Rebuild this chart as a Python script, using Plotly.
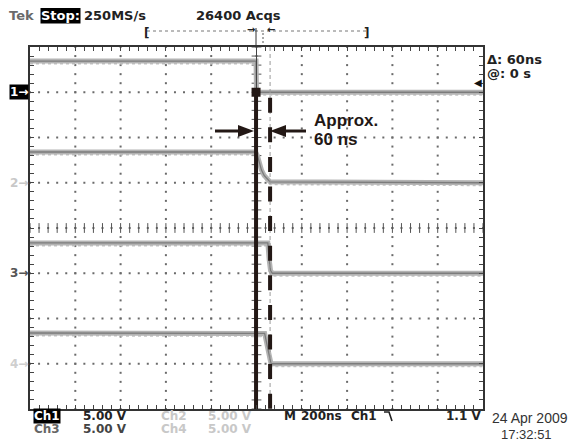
import plotly.graph_objects as go
import numpy as np

# ---------------- data ----------------
ns_per_div = 200
volts_per_div = 5.0
ch_offsets_div = [3, 1, -1, -3]          # ground marker positions (divisions from centre)
ch_names = ["1", "2", "3", "4"]

ch1_t = [-1000, -2, 0, 1000]
ch1_v = [3.45, 3.45, 0.0, 0.0]
ch2_t = [-1000, -4, 4, 12, 22, 34, 48, 60, 1000]
ch2_v = [3.4, 3.4, 3.0, 2.2, 1.4, 0.8, 0.4, 0.1, 0.0]
ch3_t = [-1000, 50, 56, 62, 70, 1000]
ch3_v = [3.35, 3.35, 1.5, 0.3, 0.0, 0.0]
ch4_t = [-1000, 36, 44, 52, 58, 64, 1000]
ch4_v = [3.4, 3.35, 2.4, 1.3, 0.5, 0.0, 0.0]

cursor1_ns = 0
cursor2_ns = 60

header_left = ["Tek", "Stop:", "250MS/s"]
header_acqs = "26400 Acqs"
delta_text = "Δ: 60ns"
at_text = "@: 0 s"
note_lines = ["Approx.", "60 ns"]
bottom_row1 = ["Ch1", "5.00 V", "Ch2", "5.00 V", "M", "200ns", "Ch1", "1.1 V"]
bottom_row2 = ["Ch3", "5.00 V", "Ch4", "5.00 V"]
date_text = "24 Apr 2009"
time_text = "17:32:51"

# ---------------- geometry ----------------
W, H = 580, 442
PAGE = 8                     # default page margin of the html body
L, R, T, B = 30, 483, 47, 409


def px(xp):
    return (xp - L) / (R - L)


def py(yp):
    return (B - yp) / (B - T)


FONT = "DejaVu Sans"
INK = "#231815"

fig = go.Figure()

# graticule dots
xs_grid = np.arange(-800, 801, 200)
ys_dots = np.arange(-4, 4.001, 0.2)
gx, gy = [], []
for x in xs_grid:
    for y in ys_dots:
        gx.append(x); gy.append(y)
xs_dots = np.arange(-1000, 1000.1, 40)
for y in range(-3, 4):
    for x in xs_dots:
        gx.append(x); gy.append(y)
fig.add_trace(go.Scatter(x=gx, y=gy, mode="markers",
                         marker=dict(symbol="square", size=2, color="#6a6a6a"),
                         hoverinfo="skip", showlegend=False))
# centre crosshair ticks
fig.add_trace(go.Scatter(x=xs_dots, y=[0] * len(xs_dots), mode="markers",
                         marker=dict(symbol="line-ns", size=7, line=dict(width=1, color="#555")),
                         hoverinfo="skip", showlegend=False))
fig.add_trace(go.Scatter(x=[0] * len(ys_dots), y=ys_dots, mode="markers",
                         marker=dict(symbol="line-ew", size=7, line=dict(width=1, color="#555")),
                         hoverinfo="skip", showlegend=False))

# waveforms
for t, v, off in [(ch1_t, ch1_v, ch_offsets_div[0]), (ch2_t, ch2_v, ch_offsets_div[1]),
                  (ch3_t, ch3_v, ch_offsets_div[2]), (ch4_t, ch4_v, ch_offsets_div[3])]:
    yy = [off + vv / volts_per_div for vv in v]
    yy2 = [y - 0.06 for y in yy]
    fig.add_trace(go.Scatter(x=t, y=yy2, mode="lines",
                             line=dict(color="#c4c4c4", width=1.5, dash="dot"),
                             hoverinfo="skip", showlegend=False))
    fig.add_trace(go.Scatter(x=t, y=yy, mode="lines",
                             line=dict(color="#b3b3b3", width=5),
                             hoverinfo="skip", showlegend=False))
    fig.add_trace(go.Scatter(x=t, y=yy, mode="lines",
                             line=dict(color="#7c7c7c", width=1.3),
                             hoverinfo="skip", showlegend=False))

# thin cursor lines
fig.add_trace(go.Scatter(x=[cursor1_ns, cursor1_ns], y=[4, -4], mode="lines",
                         line=dict(color="#444", width=1), hoverinfo="skip", showlegend=False))
fig.add_trace(go.Scatter(x=[cursor2_ns, cursor2_ns], y=[4, -4], mode="lines",
                         line=dict(color="#999", width=1, dash="4px,3px"),
                         hoverinfo="skip", showlegend=False))

# thick annotation lines
fig.add_trace(go.Scatter(x=[cursor1_ns - 2, cursor1_ns - 2], y=[ch_offsets_div[0], -4], mode="lines",
                         line=dict(color=INK, width=4), hoverinfo="skip", showlegend=False))
fig.add_trace(go.Scatter(x=[cursor2_ns, cursor2_ns], y=[2.88, -4], mode="lines",
                         line=dict(color=INK, width=4, dash="15px,14.6px"),
                         hoverinfo="skip", showlegend=False))
fig.add_trace(go.Scatter(x=[cursor1_ns - 2], y=[ch_offsets_div[0]], mode="markers",
                         marker=dict(symbol="square", size=9, color=INK),
                         hoverinfo="skip", showlegend=False))

shapes = []
annos = []


def text(x, y, s, size=13, color="#222", bold=True, anchor="left", bg=None, family=FONT):
    annos.append(dict(x=px(x), y=py(y), xref="paper", yref="paper", text=("<b>%s</b>" % s) if bold else s,
                      showarrow=False, xanchor=anchor, yanchor="middle",
                      font=dict(family=family, size=size, color=color),
                      bgcolor=bg, borderpad=0))


# header
text(8, 15, header_left[0], color="#6a6a6a")
text(40, 15, header_left[1], color="white", bg="black")
text(83, 15, header_left[2], color="#222")
text(195, 15, header_acqs, color="#222")
text(143, 33, "[", size=12)
text(370, 33, "]", size=12, anchor="right")
shapes.append(dict(type="line", xref="paper", yref="paper", x0=px(147), x1=px(366), y0=py(31), y1=py(31),
                   line=dict(color="#777", width=1, dash="dot")))
text(256, 30, "→", size=10, anchor="right", color="#222")
text(266, 30, "←", size=10, color="#222")
shapes.append(dict(type="line", xref="paper", yref="paper", x0=px(256), x1=px(256), y0=py(28), y1=py(47),
                   line=dict(color="#333", width=1)))
shapes.append(dict(type="line", xref="paper", yref="paper", x0=px(263), x1=px(263), y0=py(33), y1=py(45),
                   line=dict(color="#555", width=1, dash="2px,2px")))

# right side readouts
text(486, 59, delta_text)
text(486, 73, at_text)
text(483, 83, "◀", size=10, anchor="right", color="#111", bold=False)

# channel ground markers
marker_cols = [("white", "black"), ("#c8c8c8", None), ("#555", None), ("#cfcfcf", None)]
for name, off, (fc, bg) in zip(ch_names, ch_offsets_div, marker_cols):
    ypix = 228 - off * 45.25
    text(29, ypix, name + "→", size=12, color=fc, bg=bg, anchor="right")

# bottom readouts
BS = 12
text(33, 416, bottom_row1[0], size=BS, color="white", bg="black")
text(82, 416, bottom_row1[1], size=BS)
text(160, 416, bottom_row1[2], size=BS, color="#c8c8c8")
text(207, 416, bottom_row1[3], size=BS, color="#c8c8c8")
text(283, 416, bottom_row1[4], size=BS)
text(300, 416, bottom_row1[5], size=BS)
text(350, 416, bottom_row1[6], size=BS)
text(482, 416, bottom_row1[7], size=BS, anchor="right")
shapes.append(dict(type="path", xref="paper", yref="paper",
                   path="M %f %f L %f %f L %f %f" % (px(384), py(412), px(389), py(412), px(392), py(421)),
                   line=dict(color="#222", width=1.6)))
text(33, 429, bottom_row2[0], size=BS, color="#666")
text(82, 429, bottom_row2[1], size=BS, color="#444")
text(160, 429, bottom_row2[2], size=BS, color="#c8c8c8")
text(207, 429, bottom_row2[3], size=BS, color="#c8c8c8")
text(491, 418, date_text, size=14, bold=False, color="#333", family="Liberation Sans")
text(500, 434, time_text, size=13, bold=False, color="#333", family="Liberation Sans")

# "Approx. 60 ns" note with arrows
text(313, 120, note_lines[0], size=17, color=INK, family="Liberation Sans")
text(313, 139, note_lines[1], size=17, color=INK, family="Liberation Sans")
ya = 131
shapes.append(dict(type="line", xref="paper", yref="paper", x0=px(215), x1=px(240), y0=py(ya), y1=py(ya),
                   line=dict(color=INK, width=3)))
shapes.append(dict(type="path", xref="paper", yref="paper", fillcolor=INK, line=dict(width=0),
                   path="M %f %f L %f %f L %f %f Z" % (px(254), py(ya), px(238), py(ya - 6), px(238), py(ya + 6))))
shapes.append(dict(type="line", xref="paper", yref="paper", x0=px(284), x1=px(306), y0=py(ya), y1=py(ya),
                   line=dict(color=INK, width=3)))
shapes.append(dict(type="path", xref="paper", yref="paper", fillcolor=INK, line=dict(width=0),
                   path="M %f %f L %f %f L %f %f Z" % (px(270), py(ya), px(286), py(ya - 6), px(286), py(ya + 6))))

fig.update_layout(
    width=W - PAGE, height=H - PAGE, autosize=False,
    margin=dict(l=L - PAGE, r=W - R, t=T - PAGE, b=H - B),
    paper_bgcolor="white", plot_bgcolor="white",
    shapes=shapes, annotations=annos, showlegend=False,
    xaxis=dict(range=[-5 * ns_per_div, 5 * ns_per_div], showgrid=False, zeroline=False,
               showline=True, linecolor="#333", linewidth=1.5, mirror="ticks",
               ticks="inside", ticklen=4, tickcolor="#444", tickwidth=1,
               tickmode="linear", tick0=-1000, dtick=40, showticklabels=False, fixedrange=True),
    yaxis=dict(range=[-4, 4], showgrid=False, zeroline=False,
               showline=True, linecolor="#333", linewidth=1.5, mirror="ticks",
               ticks="inside", ticklen=4, tickcolor="#444", tickwidth=1,
               tickmode="linear", tick0=-4, dtick=0.2, showticklabels=False, fixedrange=True),
)

fig.write_html("out.html")
